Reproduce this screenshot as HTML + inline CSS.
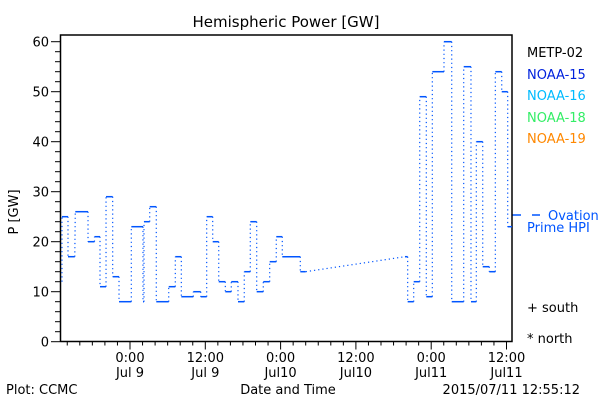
<!DOCTYPE html>
<html><head><meta charset="utf-8"><style>
body{margin:0;background:#fff;width:600px;height:400px;overflow:hidden}
svg{display:block;font-family:"DejaVu Sans","Liberation Sans",sans-serif}
</style></head><body>
<svg id="chart" width="600" height="400" viewBox="0 0 600 400">
<text x="286" y="27" font-size="15" text-anchor="middle">Hemispheric Power [GW]</text>
<text transform="translate(18,212) rotate(-90)" font-size="13" text-anchor="middle">P [GW]</text>
<g font-size="13">
<text x="527" y="57" fill="#000">METP-02</text>
<text x="527" y="79" fill="#0022dd">NOAA-15</text>
<text x="527" y="100" fill="#00bbff">NOAA-16</text>
<text x="527" y="122" fill="#33ee66">NOAA-18</text>
<text x="527" y="143" fill="#ff8800">NOAA-19</text>
<line x1="512" y1="215" x2="521" y2="215" stroke="#0055ff" stroke-width="1.5"/>
<line x1="532" y1="215" x2="540" y2="215" stroke="#0055ff" stroke-width="1.5"/>
<text x="548" y="220" fill="#0055ff">Ovation</text>
<text x="527" y="232" fill="#0055ff">Prime HPI</text>
<text x="527" y="312" fill="#000">+ south</text>
<text x="527" y="343" fill="#000">* north</text>
</g>
<g font-size="13">
<text x="6" y="394">Plot: CCMC</text>
<text x="288" y="394" text-anchor="middle">Date and Time</text>
<text x="580" y="394" text-anchor="end">2015/07/11 12:55:12</text>
</g>
<g id="axes"></g>
<g id="series"></g>
</svg>
<script>
// hours relative to 2015-07-09 00:00
const segStart=[-10.84,-10.84,-9.88,-8.72,-6.69,-5.66,-4.78,-3.82,-2.76,-1.75,0.21,2.07,2.23,3.14,4.19,6.17,7.22,8.18,10.09,11.27,12.22,13.18,14.14,15.19,16.14,17.21,18.21,19.17,20.19,21.24,22.26,23.31,24.27,27.14,43.82,44.25,45.21,46.17,47.22,48.18,50.04,51.27,53.18,54.34,55.19,56.21,57.26,58.22,59.24,60.19];
const segEnd=[-10.84,-9.88,-8.8,-6.69,-5.66,-4.78,-3.82,-2.76,-1.75,0.21,2.07,2.23,3.14,4.19,6.17,7.22,8.18,10.09,11.27,12.22,13.18,14.14,15.19,16.14,17.21,18.21,19.17,20.19,21.24,22.26,23.31,24.27,27.14,28.0,44.25,45.21,46.17,47.22,48.18,50.04,51.27,53.18,54.34,55.19,56.21,57.26,58.22,59.24,60.19,60.88];
const segValue=[12,25,17,26,20,21,11,29,13,8,23,8,24,27,8,11,17,9,10,9,25,20,12,10,12,8,14,24,10,12,16,21,17,14,17,8,12,49,9,54,60,8,55,8,40,15,14,54,50,23];
const yTicks=[0,10,20,30,40,50,60];
const xTickHours=[0,12,24,36,48,60];
const xTickTop=["0:00","12:00","0:00","12:00","0:00","12:00"];
const xTickBottom=["Jul 9","Jul 9","Jul10","Jul10","Jul11","Jul11"];
const NS="http://www.w3.org/2000/svg";
const L=60.5,R=512,T=35,B=341.5;
const xs=h=>130+h*6.275;
const ys=v=>341.7-v*5;
const axes=document.getElementById('axes'),ser=document.getElementById('series');
function mk(tag,at,parent){const e=document.createElementNS(NS,tag);for(const k in at)e.setAttribute(k,at[k]);parent.appendChild(e);return e;}
const frame=mk('path',{d:`M${L},${B} L${L},${T} L${R},${T} L${R},${B} L${L},${B}`,fill:'none',stroke:'#000','stroke-width':1.5},axes);


for(let v=0;v<=60;v+=2){const y=ys(v);const major=v%10===0;
 const t=mk('line',{x1:major?51:55,x2:L,y1:y,y2:y,stroke:'#000','stroke-width':1},axes);
 
 }
yTicks.forEach(v=>{const t=mk('text',{x:49,y:ys(v)+5,'font-size':13,'text-anchor':'end'},axes);t.textContent=v;
 
 });
for(let h=-10;h<=60;h+=2){const x=xs(h);if(x>R)break;const major=h%12===0;
 const t=mk('line',{x1:x,x2:x,y1:B,y2:B+(major?8:4),stroke:'#000','stroke-width':1},axes);
 
 }
xTickHours.forEach((h,i)=>{const x=xs(h);
 const a=mk('text',{x:x,y:362,'font-size':13,'text-anchor':'middle'},axes);a.textContent=xTickTop[i];
 
 
 const b=mk('text',{x:x,y:377,'font-size':13,'text-anchor':'middle'},axes);b.textContent=xTickBottom[i];
 
 });
const C='#0055ff';
for(let i=0;i<segValue.length;i++){
 if(i>0){const c=mk('line',{x1:xs(segEnd[i-1]),y1:ys(segValue[i-1]),x2:xs(segStart[i]),y2:ys(segValue[i]),stroke:C,'stroke-width':1.2,'stroke-dasharray':'1.2 3'},ser);
  
  }
 const s=mk('line',{x1:xs(segStart[i]),y1:ys(segValue[i]),x2:xs(segEnd[i]),y2:ys(segValue[i]),stroke:C,'stroke-width':1.5},ser);
 
 
}
</script>
</body></html>
